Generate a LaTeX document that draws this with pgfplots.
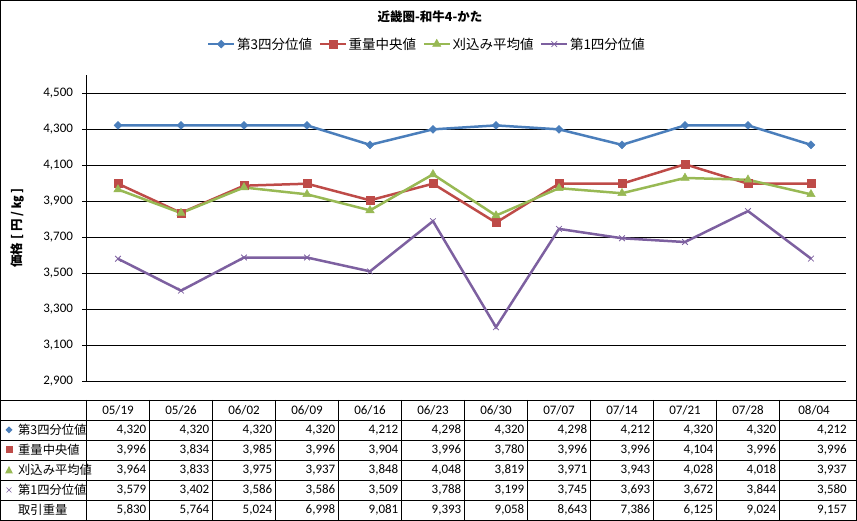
\documentclass[border=0pt]{standalone}
\usepackage{pgfplots}
\pgfplotsset{compat=1.18}
\usepackage{pgfplotstable}
\usepackage{fontspec}
\setmainfont{Carlito}
\newfontfamily\jp{Noto Sans CJK JP}
\definecolor{cq3}{HTML}{4A7EBB}
\definecolor{cmed}{HTML}{BE4B48}
\definecolor{ctrim}{HTML}{98B954}
\definecolor{cq1}{HTML}{7D60A0}
\newcommand\tabfont{\fontsize{13}{15}\selectfont}
\newcommand\jptabfont{\fontsize{12.3}{14}\selectfont}
\pgfkeys{/pgf/number format/.cd,fixed,precision=0,1000 sep={,},assume math mode=true}

\pgfplotstableread{
idx date q3 med trim q1 vol
0 05/19 4320 3996 3964 3579 5830
1 05/26 4320 3834 3833 3402 5764
2 06/02 4320 3985 3975 3586 5024
3 06/09 4320 3996 3937 3586 6998
4 06/16 4212 3904 3848 3509 9081
5 06/23 4298 3996 4048 3788 9393
6 06/30 4320 3780 3819 3199 9058
7 07/07 4298 3996 3971 3745 8643
8 07/14 4212 3996 3943 3693 7386
9 07/21 4320 4104 4028 3672 6125
10 07/28 4320 3996 4018 3844 9024
11 08/04 4212 3996 3937 3580 9157
}\datatable

\begin{document}
\begin{tikzpicture}[x=1pt,y=1pt]
\path[use as bounding box] (0,0) rectangle (857,521);
\draw[line width=1pt] (0.5,0.5) rectangle (856.5,520.5);

\node[font=\jp\bfseries\fontsize{12.5}{14}\selectfont] at (430,504) {近畿圏-和牛4-かた};

\begin{axis}[
  at={(86.5pt,140pt)}, anchor=south west,
  scale only axis, width=759.5pt, height=306pt,
  xmin=-0.5, xmax=11.556, ymin=2900, ymax=4600,
  axis x line=none, axis y line*=left,
  axis line style={black, line width=0.8pt, -},
  xtick=\empty,
  ytick={2900,3100,...,4500},
  ymajorgrids, grid style={black, line width=0.8pt},
  tick align=outside, major tick length=4pt, tick style={black, line width=0.8pt},
  yticklabel style={font=\fontsize{13}{15}\selectfont, xshift=-6pt},
  /pgf/number format/1000 sep={,},
  /pgf/number format/assume math mode=true,
  ylabel={\jp\bfseries 価格 [ 円 / ㎏ ]},
  every axis y label/.style={at={(axis description cs:-0.0902,0.5)}, rotate=90, anchor=center, font=\fontsize{12.5}{14}\selectfont},
  legend columns=4,
  legend style={at={(axis description cs:0.448,1.101)}, anchor=center, draw=none, fill=none,
    font=\jp\fontsize{13.5}{16}\selectfont, inner sep=0pt, nodes={inner sep=1.5pt},
    /tikz/every even column/.append style={column sep=5pt}},
  legend image code/.code={\draw[mark repeat=2,mark phase=2] plot coordinates {(0pt,0pt) (13pt,0pt) (26pt,0pt)};},
]
\addplot[cq3, line width=2.5pt, mark=square*, mark size=2.8pt, mark options={rotate=45, solid, fill=cq3, draw=cq3, line width=0.5pt}] table[x=idx,y=q3] {\datatable};
\addlegendentry{第3四分位値}
\addplot[cmed, line width=2.5pt, mark=square*, mark size=4pt, mark options={solid, fill=cmed, draw=cmed, line width=0.5pt}] table[x=idx,y=med] {\datatable};
\addlegendentry{重量中央値}
\addplot[ctrim, line width=2.5pt, mark=triangle*, mark size=4.8pt, mark options={solid, fill=ctrim, draw=ctrim, line width=0.5pt}] table[x=idx,y=trim] {\datatable};
\addlegendentry{刈込み平均値}
\addplot[cq1, line width=2.5pt, mark=x, mark size=4pt, mark options={solid, draw=cq1, line width=0.8pt}] table[x=idx,y=q1] {\datatable};
\addlegendentry{第1四分位値}
\end{axis}

% data table grid
\foreach \py in {400,420,440,460,480,500}{
  \draw[line width=0.8pt] (0,521-\py) -- (856,521-\py);
}
\foreach \k in {0,...,11}{
  \draw[line width=0.8pt] (86.5+63*\k,121) -- (86.5+63*\k,1);
}
% row headers
\fill[cq3] (9,94.5) -- (12.5,91) -- (9,87.5) -- (5.5,91) -- cycle;
\fill[cmed] (5.5,67.5) rectangle (12.5,74.5);
\fill[ctrim] (5,47.5) -- (13,47.5) -- (9,55) -- cycle;
\draw[cq1, line width=0.6pt] (6.5,28.5) -- (11.5,33.5) (6.5,33.5) -- (11.5,28.5);
\node[anchor=west, inner sep=0pt, font=\jp\jptabfont] at (18,91) {第3四分位値};
\node[anchor=west, inner sep=0pt, font=\jp\jptabfont] at (18,71) {重量中央値};
\node[anchor=west, inner sep=0pt, font=\jp\jptabfont] at (18,51) {刈込み平均値};
\node[anchor=west, inner sep=0pt, font=\jp\jptabfont] at (18,31) {第1四分位値};
\node[anchor=west, inner sep=0pt, font=\jp\jptabfont] at (18,11) {取引重量};
% table values
\foreach \i in {0,...,11}{
  \pgfmathsetmacro\cx{\i==11 ? 814 : 86.5+63*(\i+0.5)}
  \pgfmathsetmacro\rx{\i==11 ? 847 : 86.5+63*(\i+1)-3}
  \pgfplotstablegetelem{\i}{date}\of\datatable
  \node[inner sep=0pt, font=\tabfont] at (\cx,111) {\pgfplotsretval};
  \foreach \col/\py in {q3/91,med/71,trim/51,q1/31,vol/11}{
    \pgfplotstablegetelem{\i}{\col}\of\datatable
    \node[anchor=east, inner sep=0pt, font=\tabfont] at (\rx,\py) {\pgfmathprintnumber{\pgfplotsretval}};
  }
}
\end{tikzpicture}
\end{document}
